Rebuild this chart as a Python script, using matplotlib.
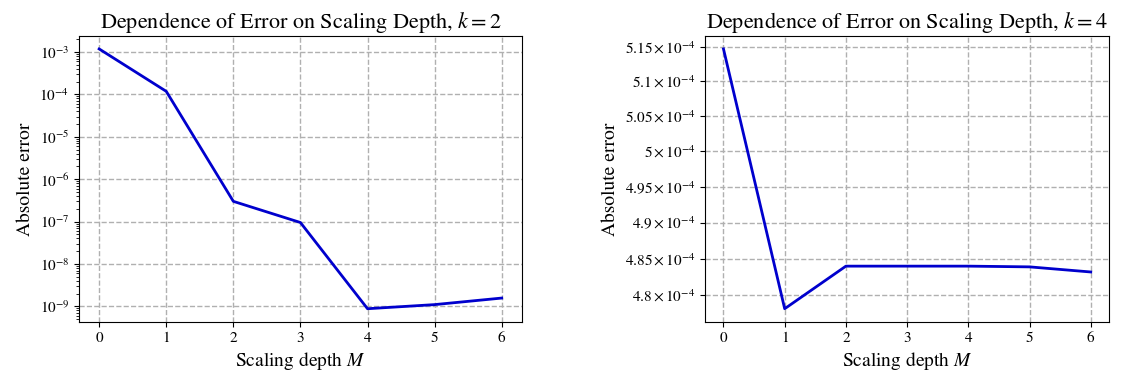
import numpy as np
import matplotlib
matplotlib.use("Agg")
import matplotlib.pyplot as plt

plt.rcParams['font.family'] = ['STIXGeneral', 'DejaVu Sans']
plt.rcParams['mathtext.fontset'] = 'stix'

depth = [0, 1, 2, 3, 4, 5, 6]
err_k2 = [1.18e-3, 1.18e-4, 3.0e-7, 9.5e-8, 8.8e-10, 1.1e-9, 1.57e-9]
err_k4 = [5.147e-4, 4.782e-4, 4.840e-4, 4.840e-4, 4.840e-4, 4.839e-4, 4.832e-4]
k4_ticks = [4.8e-4, 4.85e-4, 4.9e-4, 4.95e-4, 5.0e-4, 5.05e-4, 5.1e-4, 5.15e-4]

fig = plt.figure(figsize=(11.21, 3.8), dpi=100)
ax1 = fig.add_axes([0.0705, 0.1534, 0.395, 0.752])
ax2 = fig.add_axes([0.629, 0.1534, 0.3604, 0.752])

for ax, err, k in [(ax1, err_k2, 2), (ax2, err_k4, 4)]:
    ax.plot(depth, err, color='#0000CD', linewidth=2)
    ax.set_yscale('log')
    ax.set_xticks(depth)
    ax.grid(True, which='major', linestyle='--', color='#b0b0b0', linewidth=1)
    ax.set_title(f"Dependence of Error on Scaling Depth, $k={k}$", fontsize=16)
    ax.set_xlabel("Scaling depth $M$", fontsize=14)
    ax.set_ylabel("Absolute error", fontsize=14)
    ax.tick_params(labelsize=11)

ax2.set_yticks(k4_ticks)
ax2.minorticks_off()

fig.savefig('out.png', dpi=100)
